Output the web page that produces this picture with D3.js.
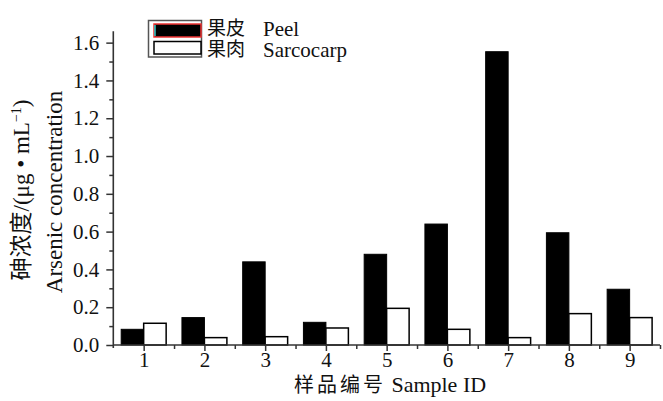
<!DOCTYPE html>
<html>
<head>
<meta charset="utf-8">
<script src="https://cdn.jsdelivr.net/npm/d3@7"></script>
<style>
  body { margin: 0; background: #fff; }
  text { font-family: "Liberation Serif", "Noto Sans CJK SC", serif; }
  .cjk { font-family: "Noto Sans CJK SC", sans-serif; }
</style>
</head>
<body>
<div id="chart"></div>
<script>
// data
let sampleIds = [1, 2, 3, 4, 5, 6, 7, 8, 9];
let peelValues = [0.083, 0.145, 0.44, 0.12, 0.48, 0.64, 1.552, 0.594, 0.295];
let sarcocarpValues = [0.115, 0.039, 0.044, 0.09, 0.194, 0.083, 0.039, 0.166, 0.145];
let yTickValues = [0, 0.2, 0.4, 0.6, 0.8, 1.0, 1.2, 1.4, 1.6];
let yMinorValues = [0.1, 0.3, 0.5, 0.7, 0.9, 1.1, 1.3, 1.5];
let xMinorValues = [1.5, 2.5, 3.5, 4.5, 5.5, 6.5, 7.5, 8.5, 9.5];
let legendCjk = ["果皮", "果肉"];
let legendEn = ["Peel", "Sarcocarp"];

let width = 663, height = 401;
let axisColor = "#333";
let serif = "'Liberation Serif', 'Times New Roman', serif";

let svg = d3.select("#chart")
  .append("svg")
  .attr("width", width)
  .attr("height", height)
  .style("background-color", "#FFFFFF");

// scales: plot box runs from the y axis at x=113 to the right edge
let xScale = d3.scaleLinear().domain([0.5, 9.5]).range([113.3, 660]);
let yScale = d3.scaleLinear().domain([0, 1.66]).range([345, 31.3]);
let barW = xScale(1.37) - xScale(1);

// bars - peel left of the tick, sarcocarp right of it
svg.append("g").selectAll("rect")
  .data(peelValues)
  .enter().append("rect")
  .attr("x", (d, i) => xScale(sampleIds[i]) - barW)
  .attr("y", d => yScale(d))
  .attr("width", barW)
  .attr("height", d => yScale(0) - yScale(d))
  .attr("fill", "#000")
  .attr("stroke", "#000")
  .attr("stroke-width", 1);

svg.append("g").selectAll("rect")
  .data(sarcocarpValues)
  .enter().append("rect")
  .attr("x", (d, i) => xScale(sampleIds[i]))
  .attr("y", d => yScale(d))
  .attr("width", barW)
  .attr("height", d => yScale(0) - yScale(d))
  .attr("fill", "#fff")
  .attr("stroke", "#000")
  .attr("stroke-width", 1.5);

// x axis
let xAxis = svg.append("g")
  .attr("transform", "translate(0," + yScale(0) + ")")
  .call(d3.axisBottom(xScale).tickValues(sampleIds).tickSize(6).tickPadding(1).tickFormat(d3.format("d")));
xAxis.append("g")
  .call(d3.axisBottom(xScale).tickValues(xMinorValues).tickSize(4).tickFormat(""));

// y axis
let yAxis = svg.append("g")
  .attr("transform", "translate(" + xScale(0.5) + ",0)")
  .call(d3.axisLeft(yScale).tickValues(yTickValues).tickSize(7).tickPadding(7).tickFormat(d3.format(".1f")));
yAxis.append("g")
  .call(d3.axisLeft(yScale).tickValues(yMinorValues).tickSize(4).tickFormat(""));

svg.selectAll(".tick line").attr("stroke", axisColor).attr("stroke-width", 1.5);
svg.selectAll(".tick text")
  .attr("fill", "#111")
  .attr("font-family", serif)
  .attr("font-size", 21)
  .style("font-family", serif)
  .style("font-size", "21px");
// own domain lines, no end caps
svg.selectAll(".domain").remove();
xAxis.append("path")
  .attr("d", "M" + xScale(0.5) + ",0H" + xScale(9.5))
  .attr("stroke", axisColor).attr("stroke-width", 1.6);
yAxis.append("path")
  .attr("d", "M0," + (yScale(0) + 3) + "V" + yScale(1.66))
  .attr("stroke", axisColor).attr("stroke-width", 1.6);

// axis titles
let xTitle = svg.append("text")
  .attr("x", 390)
  .attr("y", 392)
  .attr("text-anchor", "middle")
  .attr("fill", "#111");
xTitle.append("tspan").attr("class", "cjk").style("font-size", "20px").style("letter-spacing", "3px").text("样品编号");
xTitle.append("tspan").style("font-family", serif).style("font-size", "22px").text(" Sample ID");

let yTitle = svg.append("text")
  .attr("transform", "translate(29,190) rotate(-90)")
  .attr("text-anchor", "middle")
  .style("font-size", "23px")
  .attr("fill", "#111");
yTitle.append("tspan").attr("class", "cjk").text("砷浓度");
yTitle.append("tspan").style("font-family", serif).text("/(μg • mL");
yTitle.append("tspan").attr("dy", -8).style("font-family", serif).style("font-size", "14px").text("−1");
yTitle.append("tspan").attr("dy", 8).style("font-family", serif).text(")");

svg.append("text")
  .attr("transform", "translate(62,192) rotate(-90)")
  .attr("text-anchor", "middle")
  .style("font-size", "23px")
  .style("font-family", serif)
  .attr("fill", "#111")
  .text("Arsenic concentration");

// legend
let legend = svg.append("g");
legend.append("rect")
  .attr("x", 148.5).attr("y", 20.5).attr("width", 53).attr("height", 36.5)
  .attr("fill", "none").attr("stroke", "#555").attr("stroke-width", 1.5);
legend.append("rect")
  .attr("x", 154).attr("y", 24).attr("width", 47).attr("height", 13)
  .attr("fill", "#000").attr("stroke", "#e33").attr("stroke-width", 1.5);
legend.append("line")
  .attr("x1", 155).attr("x2", 155).attr("y1", 25).attr("y2", 36)
  .attr("stroke", "#3cc").attr("stroke-width", 1.5);
legend.append("rect")
  .attr("x", 154).attr("y", 41.5).attr("width", 47).attr("height", 12.5)
  .attr("fill", "#fff").attr("stroke", "#000").attr("stroke-width", 1.5);

// one text per entry: chinese + english
let entries = legend.selectAll(".entry")
  .data(legendEn)
  .enter().append("text")
  .attr("class", "entry")
  .attr("y", (d, i) => 36 + i * 21)
  .attr("fill", "#111");
entries.append("tspan")
  .attr("class", "cjk")
  .attr("x", 207)
  .attr("dy", -1)
  .style("font-size", "19px")
  .text((d, i) => legendCjk[i]);
entries.append("tspan")
  .attr("x", 263)
  .attr("dy", 1)
  .style("font-size", "21px")
  .style("font-family", serif)
  .text(d => d);
</script>
</body>
</html>
